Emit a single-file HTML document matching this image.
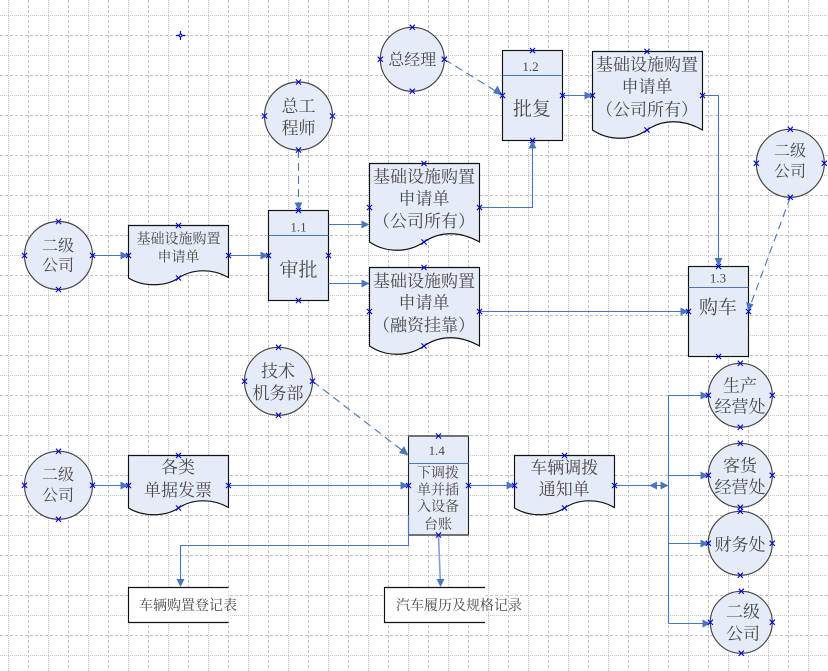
<!DOCTYPE html>
<html><head><meta charset="utf-8"><style>
html,body{margin:0;padding:0;background:#fff;width:828px;height:671px;overflow:hidden}
svg{display:block}
text{font-family:"Liberation Serif","Noto Serif CJK SC",serif;fill:#484848;text-anchor:middle;dominant-baseline:central}
.s{fill:#e6ecf7;stroke:#111;stroke-width:1.15}
.c{fill:#e6ecf7;stroke:#444;stroke-width:1.15}
.l{fill:none;stroke:#4a76bc;stroke-width:1.1}
.d{fill:none;stroke:#4a76bc;stroke-width:1.1;stroke-dasharray:8 5}
.a{fill:#4a76bc;stroke:none}
.t16{font-size:16px}.t17{font-size:17px}.t14{font-size:14px}.t18{font-size:19px}.t13{font-size:13px}
</style></head><body>
<svg width="828" height="671" viewBox="0 0 828 671" xmlns="http://www.w3.org/2000/svg">
<defs>
<pattern id="g" patternUnits="userSpaceOnUse" width="40" height="40">
<line x1="8.5" y1="0" x2="8.5" y2="40" stroke="#c4c4c4" stroke-dasharray="1 1"/>
<line x1="0" y1="15.5" x2="40" y2="15.5" stroke="#c4c4c4" stroke-dasharray="1 1"/>
<line x1="28.5" y1="0" x2="28.5" y2="40" stroke="#c0c0c0" stroke-dasharray="3 2"/>
<line x1="0" y1="35.5" x2="40" y2="35.5" stroke="#c0c0c0" stroke-dasharray="3 2"/>
</pattern>
<g id="x"><path d="M-2.6 -2.6L2.6 2.6M-2.6 2.6L2.6 -2.6" stroke="#0000e0" stroke-width="1.1" fill="none"/></g>
</defs>
<rect width="828" height="671" fill="#fff"/>
<rect width="828" height="671" fill="url(#g)"/>

<!-- blue cross -->
<path d="M180.5 31V40M176 35.5H185" stroke="#0000d8" stroke-width="1.2" fill="none"/>
<circle cx="180.5" cy="35.5" r="1.4" fill="#fff" stroke="#0000d8" stroke-width="1"/>

<!-- circles -->
<circle class="c" cx="58.5" cy="255.5" r="34"/>
<circle class="c" cx="298.5" cy="116" r="34"/>
<circle class="c" cx="412.3" cy="59.3" r="32"/>
<circle class="c" cx="790.3" cy="163.3" r="34"/>
<circle class="c" cx="278.5" cy="381.3" r="34"/>
<circle class="c" cx="58.5" cy="485.3" r="34"/>
<circle class="c" cx="740.3" cy="395.3" r="32"/>
<circle class="c" cx="740.3" cy="475.3" r="32"/>
<circle class="c" cx="740.3" cy="543.3" r="32"/>
<circle class="c" cx="741.3" cy="622.3" r="31"/>

<!-- documents -->
<path class="s" d="M128.5 225.5H228.5V277.5C212 268 192 269 178.5 278C165 287 143 287 128.5 278Z"/>
<path class="s" d="M369.5 163.5H479.5V242C460 231 440 231 424 242C408 253 386 253 369.5 242Z"/>
<path class="s" d="M369.5 267.5H479.5V346C460 335 440 335 424 346C408 357 386 357 369.5 346Z"/>
<path class="s" d="M592.5 51.5H702.5V130C683 119 663 119 647 130C631 141 609 141 592.5 130Z"/>
<path class="s" d="M128.5 455.5H228.5V507.5C212 498 192 499 178.5 508C165 517 143 517 128.5 508Z"/>
<path class="s" d="M514.5 455.5H614.5V507.5C598 498 578 499 564.5 508C551 517 529 517 514.5 508Z"/>

<!-- process boxes -->
<rect class="s" x="268.5" y="210.5" width="60" height="90"/>
<rect class="s" x="502.5" y="50.5" width="60" height="90"/>
<rect class="s" x="688.5" y="266.5" width="60" height="90"/>
<rect x="408.5" y="436" width="60" height="99" fill="#e6ecf7" stroke="#222" stroke-width="1.1"/>
<path d="M408 436H469M408 535H469" stroke="#666" stroke-width="1.8" fill="none"/>
<path class="l" d="M268.5 235.5H328.5M502.5 75.5H562.5M688.5 287.5H748.5M408.5 463.5H468.5"/>

<!-- data stores -->
<path d="M228.5 587.5H128.5V622.5H228.5" fill="#fff" stroke="#111" stroke-width="1.15"/>
<path d="M485 587.5H384.5V622.5H485" fill="#fff" stroke="#111" stroke-width="1.15"/>

<!-- connectors -->
<path class="l" d="M92.7 255.5H122M228.5 255.5H262M328.5 224.5H363M328.5 283.5H363M479.5 207.5H532.5V147M562.5 95.5H586M702.5 95.5H718.5V258M479.5 311.5H682M92.7 485.5H122M228.5 485.5H402M468.5 485.5H508M614.5 485.5H668.5"/>
<path class="l" d="M668.5 395.5V623.5M668.5 395.5H702M668.5 475.5H702M668.5 543.5H702M668.5 623.5H704"/>
<path class="l" d="M408.5 515V545.5H180.5V581"/>
<path d="M438.5 535L440.3 581" fill="none" stroke="#7f9fd4" stroke-width="1.6"/>
<path class="d" d="M298.5 150V204"/>
<path class="d" d="M444.3 59.3L498 92.5"/>
<path class="d" d="M790.3 197.3L750.5 305"/>
<path class="d" d="M312.7 381.3L403 451"/>

<!-- arrowheads -->
<g class="a">
<path d="M128.5 255.5L120.5 251.5V259.5Z"/>
<path d="M268.5 255.5L260.5 251.5V259.5Z"/>
<path d="M369.5 224.5L361.5 220.5V228.5Z"/>
<path d="M369.5 283.5L361.5 279.5V287.5Z"/>
<path d="M532.5 140.5L528.5 148.5H536.5Z"/>
<path d="M592.5 95.5L584.5 91.5V99.5Z"/>
<path d="M718.5 266.5L714.5 258H722.5Z"/>
<path d="M688.5 311.5L680.5 307.5V315.5Z"/>
<path d="M298.5 210.5L294.5 202.5H302.5Z"/>
<path d="M502.5 95.5L493 93L497.5 85.5Z"/>
<path d="M748.5 311.5L746 302L753.5 304.5Z"/>
<path d="M408.5 455.5L399 453L404 446Z"/>
<path d="M128.5 485.5L120.5 481.5V489.5Z"/>
<path d="M408.5 485.5L400.5 481.5V489.5Z"/>
<path d="M514.5 485.5L506.5 481.5V489.5Z"/>
<path d="M649 485.5L657 481.5V489.5Z"/>
<path d="M668.5 485.5L660.5 481.5V489.5Z"/>
<path d="M708.5 395.5L700.5 391.5V399.5Z"/>
<path d="M708.5 475.5L700.5 471.5V479.5Z"/>
<path d="M708.5 543.5L700.5 539.5V547.5Z"/>
<path d="M710.5 623.5L702.5 619.5V627.5Z"/>
<path d="M180.5 587L176.5 579H184.5Z"/>
<path d="M440.5 587L436.5 579H444.5Z"/>
</g>

<!-- text -->
<g transform="translate(0,1.5)">
<text class="t16" x="58" y="245">二级</text><text class="t16" x="58" y="264.7">公司</text>
<text class="t14" x="178.5" y="238.7">基础设施购置</text><text class="t14" x="178.5" y="256.7">申请单</text>
<text class="t13" x="298.5" y="225.6">1.1</text><text class="t18" x="298.5" y="269">审批</text>
<text class="t17" x="298.5" y="105">总工</text><text class="t17" x="298.5" y="127">程师</text>
<text class="t16" x="412.3" y="59">总经理</text>
<text class="t13" x="530.5" y="65">1.2</text><text class="t18" x="532" y="108">批复</text>
<text class="t17" x="424" y="175.7">基础设施购置</text><text class="t17" x="424" y="197.3">申请单</text><text class="t17" x="424" y="220">（公司所有）</text>
<text class="t17" x="424" y="280">基础设施购置</text><text class="t17" x="424" y="301.3">申请单</text><text class="t17" x="424" y="324">（融资挂靠）</text>
<text class="t17" x="647" y="63.3">基础设施购置</text><text class="t17" x="647" y="85.7">申请单</text><text class="t17" x="647" y="108.3">（公司所有）</text>
<text class="t16" x="790" y="150">二级</text><text class="t16" x="790" y="170.7">公司</text>
<text class="t13" x="718" y="276.7">1.3</text><text class="t18" x="718" y="306.7">购车</text>
<text class="t17" x="278" y="370">技术</text><text class="t17" x="278" y="392">机务部</text>
<text class="t16" x="58" y="474">二级</text><text class="t16" x="58" y="494.3">公司</text>
<text class="t17" x="178" y="466">各类</text><text class="t17" x="178" y="489">单据发票</text>
<text class="t13" x="436.7" y="449">1.4</text>
<text class="t14" x="438" y="472.3">下调拨</text><text class="t14" x="438" y="489.3">单并插</text><text class="t14" x="438" y="506">入设备</text><text class="t14" x="438" y="524">台账</text>
<text class="t17" x="564.3" y="466.7">车辆调拨</text><text class="t17" x="564.3" y="488">通知单</text>
<text class="t17" x="740" y="384.3">生产</text><text class="t17" x="740" y="405.7">经营处</text>
<text class="t17" x="740" y="464.3">客货</text><text class="t17" x="740" y="486">经营处</text>
<text class="t17" x="740" y="543.3">财务处</text>
<text class="t17" x="743" y="610.7">二级</text><text class="t17" x="743" y="632.7">公司</text>
<text class="t14" x="188" y="605">车辆购置登记表</text>
<text class="t14" x="459" y="605">汽车履历及规格记录</text>
</g>

<!-- connection markers -->
<g>
<use href="#x" x="58.5" y="221.5"/><use href="#x" x="24.5" y="255.5"/><use href="#x" x="92.5" y="255.5"/><use href="#x" x="58.5" y="289.5"/>
<use href="#x" x="298.5" y="82"/><use href="#x" x="264.5" y="116"/><use href="#x" x="332.5" y="116"/><use href="#x" x="298.5" y="150"/>
<use href="#x" x="412.3" y="27.3"/><use href="#x" x="380.3" y="59.3"/><use href="#x" x="444.3" y="59.3"/><use href="#x" x="412.3" y="91.3"/>
<use href="#x" x="790.3" y="129.3"/><use href="#x" x="756.3" y="163.3"/><use href="#x" x="824.3" y="163.3"/><use href="#x" x="790.3" y="197.3"/>
<use href="#x" x="278.5" y="347.3"/><use href="#x" x="244.5" y="381.3"/><use href="#x" x="312.5" y="381.3"/><use href="#x" x="278.5" y="415.3"/>
<use href="#x" x="58.5" y="451.3"/><use href="#x" x="24.5" y="485.3"/><use href="#x" x="92.5" y="485.3"/><use href="#x" x="58.5" y="519.3"/>
<use href="#x" x="740.3" y="363.3"/><use href="#x" x="708.3" y="395.3"/><use href="#x" x="772.3" y="395.3"/><use href="#x" x="740.3" y="427.3"/>
<use href="#x" x="740.3" y="443.3"/><use href="#x" x="708.3" y="475.3"/><use href="#x" x="772.3" y="475.3"/><use href="#x" x="740.3" y="507.3"/>
<use href="#x" x="740.3" y="511.3"/><use href="#x" x="708.3" y="543.3"/><use href="#x" x="772.3" y="543.3"/><use href="#x" x="740.3" y="575.3"/>
<use href="#x" x="741.3" y="591.3"/><use href="#x" x="710.3" y="622.3"/><use href="#x" x="772.3" y="622.3"/><use href="#x" x="741.3" y="653.3"/>
<use href="#x" x="178.5" y="225.5"/><use href="#x" x="128.5" y="255.5"/><use href="#x" x="228.5" y="255.5"/><use href="#x" x="178.5" y="278"/>
<use href="#x" x="424" y="163.5"/><use href="#x" x="369.5" y="207.5"/><use href="#x" x="479.5" y="207.5"/><use href="#x" x="424" y="242"/>
<use href="#x" x="424" y="267.5"/><use href="#x" x="369.5" y="311.5"/><use href="#x" x="479.5" y="311.5"/><use href="#x" x="424" y="346"/>
<use href="#x" x="647" y="51.5"/><use href="#x" x="592.5" y="95.5"/><use href="#x" x="702.5" y="95.5"/><use href="#x" x="647" y="130"/>
<use href="#x" x="178.5" y="455.5"/><use href="#x" x="128.5" y="485.5"/><use href="#x" x="228.5" y="485.5"/><use href="#x" x="178.5" y="508"/>
<use href="#x" x="564.5" y="455.5"/><use href="#x" x="514.5" y="485.5"/><use href="#x" x="614.5" y="485.5"/><use href="#x" x="564.5" y="508"/>
<use href="#x" x="298.5" y="210.5"/><use href="#x" x="268.5" y="255.5"/><use href="#x" x="328.5" y="255.5"/><use href="#x" x="298.5" y="300.5"/>
<use href="#x" x="532.5" y="50.5"/><use href="#x" x="502.5" y="95.5"/><use href="#x" x="562.5" y="95.5"/><use href="#x" x="532.5" y="140.5"/>
<use href="#x" x="718.5" y="266.5"/><use href="#x" x="688.5" y="311.5"/><use href="#x" x="748.5" y="311.5"/><use href="#x" x="718.5" y="356.5"/>
<use href="#x" x="438.5" y="436"/><use href="#x" x="408.5" y="485.5"/><use href="#x" x="468.5" y="485.5"/><use href="#x" x="438.5" y="535"/>
</g>
</svg>
</body></html>
